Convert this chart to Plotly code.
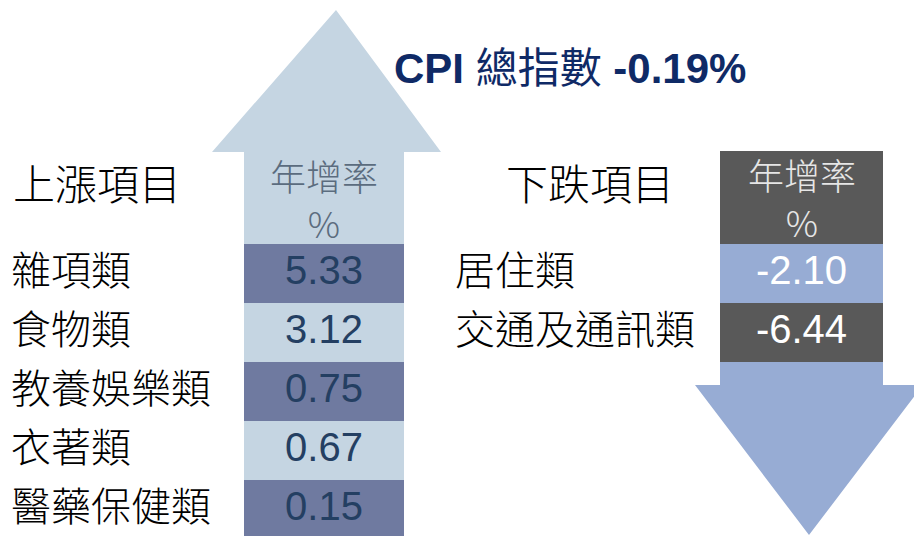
import plotly.graph_objects as go

# ---- data ----
up_title = "上漲項目"
down_title = "下跌項目"
rate_header = "年增率<br>%"
up_categories = ["雜項類", "食物類", "教養娛樂類", "衣著類", "醫藥保健類"]
up_values = [5.33, 3.12, 0.75, 0.67, 0.15]
down_categories = ["居住類", "交通及通訊類"]
down_values = [-2.10, -6.44]
cpi_total = -0.19

# ---- layout constants (pixel space) ----
W, H = 914, 536
ROW_TOP = 244
ROW_H = 59
UP_X0, UP_X1 = 244, 404
DN_X0, DN_X1 = 720, 883

UP_LIGHT = "#c5d5e2"
UP_DARK = "#6f7aa0"
DN_LIGHT = "#97acd4"
DN_DARK = "#595959"
VAL_COLOR = "#243f62"
CJK = "Noto Sans CJK TC"
LAT = "Liberation Sans, Arial, Noto Sans CJK TC"

fig = go.Figure()

# arrows as background shapes
up_arrow = f"M {UP_X0},{H} L {UP_X0},152 L 212,152 L 336,10 L 441,152 L {UP_X1},152 L {UP_X1},{H} Z"
down_arrow = f"M {DN_X0},151 L {DN_X1},151 L {DN_X1},385 L 923,385 L 809,535 L 695,385 L {DN_X0},385 Z"
shapes = [
    dict(type="path", path=up_arrow, xref="x", yref="y", fillcolor=UP_LIGHT, line=dict(width=0), layer="below"),
    dict(type="path", path=down_arrow, xref="x", yref="y", fillcolor=DN_LIGHT, line=dict(width=0), layer="below"),
]

# up cells (bars)
n_up = len(up_values)
fig.add_trace(go.Bar(
    x=[(UP_X0 + UP_X1) / 2] * n_up,
    y=[ROW_H] * n_up,
    base=[ROW_TOP + i * ROW_H for i in range(n_up)],
    width=UP_X1 - UP_X0,
    marker=dict(color=[UP_DARK if i % 2 == 0 else UP_LIGHT for i in range(n_up)], line=dict(width=0)),
    hoverinfo="skip", showlegend=False))

# down header box + cells
n_dn = len(down_values)
fig.add_trace(go.Bar(
    x=[(DN_X0 + DN_X1) / 2] * (n_dn + 1),
    y=[ROW_TOP - 151] + [ROW_H] * n_dn,
    base=[151] + [ROW_TOP + i * ROW_H for i in range(n_dn)],
    width=DN_X1 - DN_X0,
    marker=dict(color=[DN_DARK] + [DN_LIGHT if i % 2 == 0 else DN_DARK for i in range(n_dn)], line=dict(width=0)),
    hoverinfo="skip", showlegend=False))

# values
fig.add_trace(go.Scatter(
    x=[(UP_X0 + UP_X1) / 2] * n_up,
    y=[ROW_TOP + (i + 0.5) * ROW_H for i in range(n_up)],
    text=[f"{v:.2f}" for v in up_values], mode="text", textposition="middle center",
    textfont=dict(family=LAT, size=40, color=VAL_COLOR),
    hoverinfo="skip", showlegend=False))
fig.add_trace(go.Scatter(
    x=[(DN_X0 + DN_X1) / 2] * n_dn,
    y=[ROW_TOP + (i + 0.5) * ROW_H for i in range(n_dn)],
    text=[f"{v:.2f}" for v in down_values], mode="text", textposition="middle center",
    textfont=dict(family=LAT, size=40, color="white"),
    hoverinfo="skip", showlegend=False))

# labels
fig.add_trace(go.Scatter(
    x=[11] * n_up,
    y=[ROW_TOP + (i + 0.5) * ROW_H + 1 for i in range(n_up)],
    text=up_categories, mode="text", textposition="middle right",
    textfont=dict(family=CJK, size=40, color="black", weight=300),
    hoverinfo="skip", showlegend=False))
fig.add_trace(go.Scatter(
    x=[455] * n_dn,
    y=[ROW_TOP + (i + 0.5) * ROW_H + 1 for i in range(n_dn)],
    text=down_categories, mode="text", textposition="middle right",
    textfont=dict(family=CJK, size=40, color="black", weight=300),
    hoverinfo="skip", showlegend=False))

annotations = [
    dict(x=11, y=181, text=up_title, xanchor="left", yanchor="middle", showarrow=False,
         font=dict(family=CJK, size=42, color="black", weight=300)),
    dict(x=504, y=181, text=down_title, xanchor="left", yanchor="middle", showarrow=False,
         font=dict(family=CJK, size=42, color="black", weight=300)),
    dict(x=(UP_X0 + UP_X1) / 2, y=198, text=rate_header, showarrow=False,
         xanchor="center", yanchor="middle",
         font=dict(family=CJK, size=36, color="#5b6c7e", weight=300)),
    dict(x=(DN_X0 + DN_X1) / 2, y=197, text=rate_header, showarrow=False,
         xanchor="center", yanchor="middle",
         font=dict(family=CJK, size=36, color="#e6e6e6", weight=300)),
    dict(x=392, y=68, text=f"<b>CPI</b> 總指數 <b>{cpi_total:.2f}%</b>", showarrow=False,
         xanchor="left", yanchor="middle",
         font=dict(family=LAT, size=42, color="#0f2a66")),
]

fig.update_layout(
    width=W, height=H, margin=dict(l=0, r=0, t=0, b=0),
    paper_bgcolor="white", plot_bgcolor="rgba(0,0,0,0)",
    barmode="overlay", bargap=0,
    xaxis=dict(range=[0, W], visible=False, fixedrange=True),
    yaxis=dict(range=[H, 0], visible=False, fixedrange=True),
    shapes=shapes,
    annotations=annotations,
)

fig.write_html("out.html", config={"displayModeBar": False},
               post_script="document.body.style.margin='0';document.body.style.overflow='hidden';")
